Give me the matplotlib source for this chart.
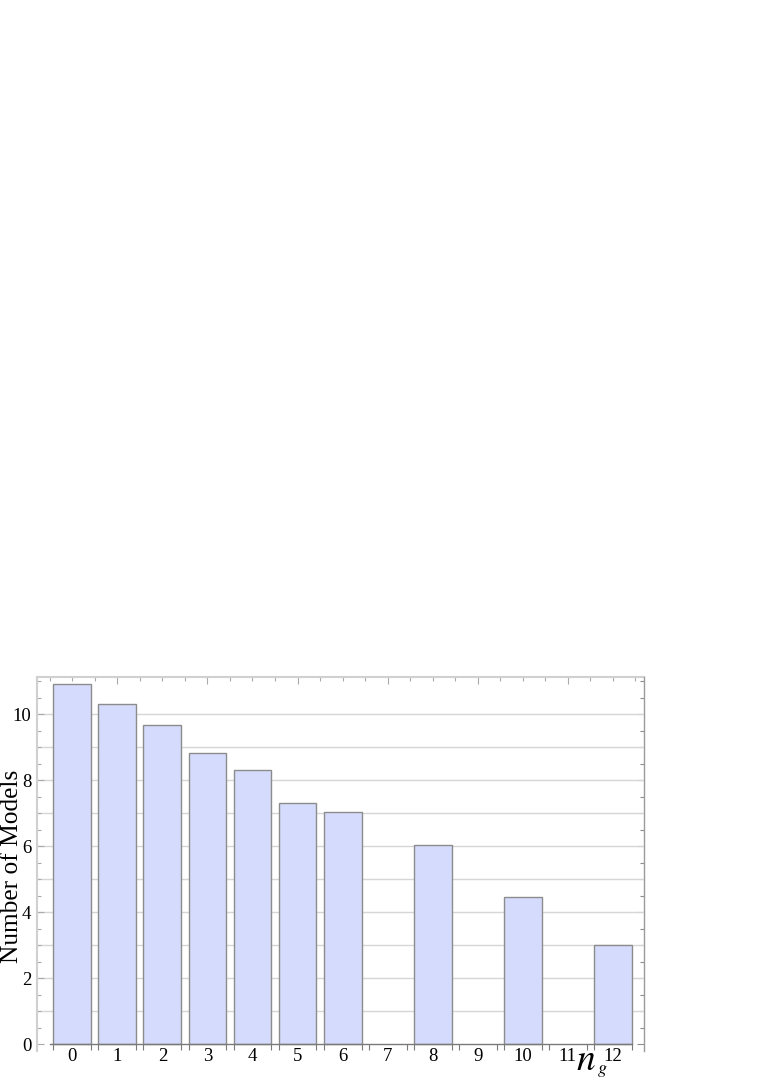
import matplotlib
matplotlib.use("Agg")
import matplotlib.pyplot as plt
import numpy as np

categories = [0, 1, 2, 3, 4, 5, 6, 7, 8, 9, 10, 11, 12]
values = [10.91, 10.30, 9.67, 8.84, 8.32, 7.30, 7.03, 0, 6.03, 0, 4.46, 0, 3.02]
ytick_labels = [0, 2, 4, 6, 8, 10]

plt.rcParams['font.family'] = ['Liberation Serif', 'DejaVu Serif']
plt.rcParams['mathtext.fontset'] = 'stix'

W, H = 763, 1078
fig = plt.figure(figsize=(W / 100, H / 100), dpi=100)

xlim = (-0.79, 12.69)
ylim = (-0.2, 11.14)
px_x = 45.05
px_y = 33.0
left_px = 36.7
zero_px = 1044.3
ax_w = (xlim[1] - xlim[0]) * px_x
ax_h = (ylim[1] - ylim[0]) * px_y
bottom_px = zero_px - ylim[0] * px_y
ax = fig.add_axes([left_px / W, (H - bottom_px) / H, ax_w / W, ax_h / H])
ax.set_xlim(*xlim)
ax.set_ylim(*ylim)

barw = 0.84
xs = np.array(categories)
vals = np.array(values)
mask = vals > 0
ax.bar(xs[mask], vals[mask], width=barw, color='#d5dbfc', edgecolor='#8c8c8c',
       linewidth=1.0, zorder=3)

# grid lines
for g in range(1, 11):
    ax.axhline(g, color='#d6d6d6', linewidth=1.0, zorder=1)

# spines
ax.spines['top'].set_visible(False)
ax.spines['right'].set_visible(False)
ax.spines['left'].set_color('#d0d0d0')
ax.spines['left'].set_linewidth(1.5)
ax.spines['bottom'].set_position(('data', 0))
ax.spines['bottom'].set_bounds(-0.49, 12.42)
ax.spines['bottom'].set_color('#7a7a7a')
ax.spines['bottom'].set_linewidth(1.0)
ax.spines['bottom'].set_zorder(4)

# x ticks
ax.set_xticks(categories)
ax.set_xticklabels([str(c) for c in categories], fontsize=13.5)
edges = sorted([c - barw / 2 for c in categories] + [c + barw / 2 for c in categories])
ax.set_xticks(edges, minor=True)
ax.tick_params(axis='x', which='major', length=0, pad=3)
ax.tick_params(axis='x', which='minor', length=4, direction='out', color='#7a7a7a', width=0.8)

# y ticks
ax.set_yticks(ytick_labels)
ax.set_yticklabels([str(v) for v in ytick_labels], fontsize=13.5)
ax.set_yticks(np.arange(0, 11.01, 0.5), minor=True)
ax.tick_params(axis='y', which='major', length=5, direction='in', color='#aaaaaa', width=0.8, pad=4)
ax.tick_params(axis='y', which='minor', length=3, direction='in', color='#aaaaaa', width=0.8)

# top frame
secx = ax.secondary_xaxis('top')
secx.set_xticks([1, 3, 5, 7, 9, 11])
secx.set_xticklabels([])
secx.set_xticks(np.arange(-0.5, 12.51, 0.5), minor=True)
secx.tick_params(which='major', length=5, direction='in', color='#aaaaaa', width=0.8)
secx.tick_params(which='minor', length=3, direction='in', color='#aaaaaa', width=0.8)
secx.spines['top'].set_color('#d0d0d0')
secx.spines['top'].set_linewidth(1.5)

# right frame
secy = ax.secondary_yaxis('right')
secy.set_yticks(ytick_labels)
secy.set_yticklabels([])
secy.set_yticks(np.arange(0, 11.01, 0.5), minor=True)
secy.tick_params(which='major', length=5, direction='in', color='#8c8c8c', width=0.8)
secy.tick_params(which='minor', length=3, direction='in', color='#8c8c8c', width=0.8)
secy.spines['right'].set_color('#9a9a9a')
secy.spines['right'].set_linewidth(1.0)

# labels
fig.text(12 / W, 1 - 866 / H, 'Number of Models', rotation=90, ha='center', va='center',
         fontsize=18.3)
fig.text(576 / W, 1 - 1070 / H, r'$n$', ha='left', va='baseline', fontsize=27)
fig.text(597 / W, 1 - 1073 / H, r'$g$', ha='left', va='baseline', fontsize=13)

fig.savefig('out.png', dpi=100)
